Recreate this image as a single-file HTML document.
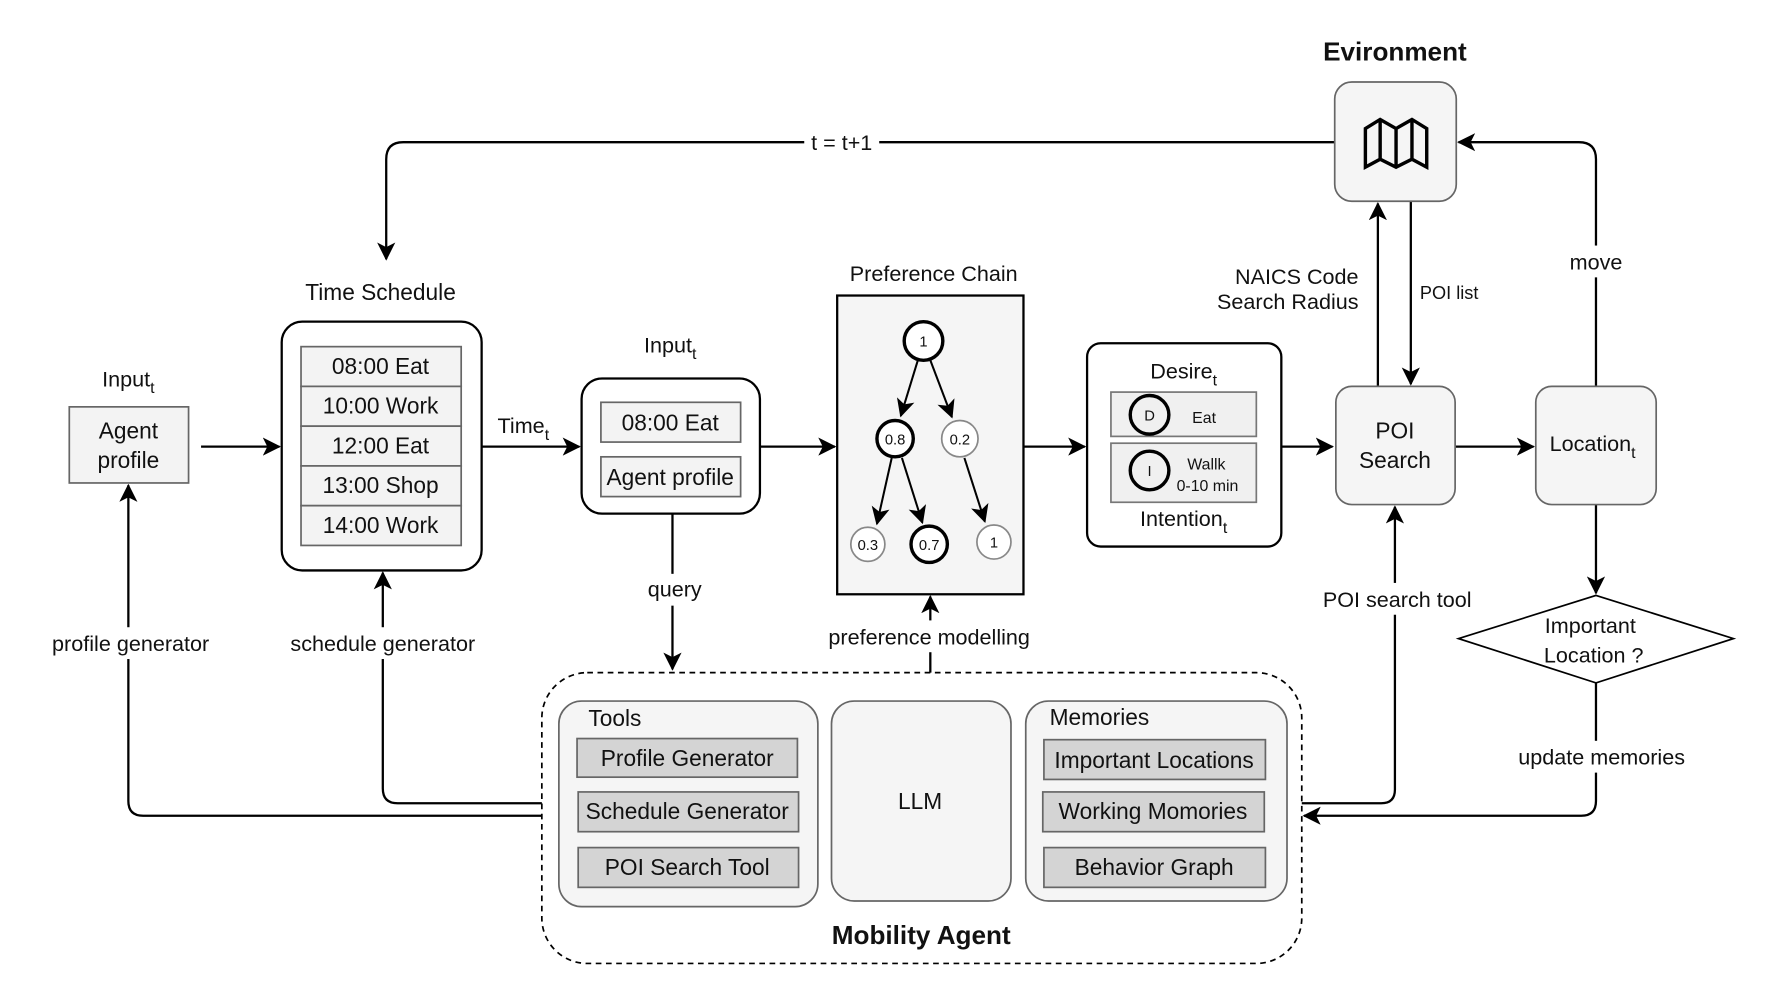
<!DOCTYPE html>
<html><head><meta charset="utf-8"><style>
html,body{margin:0;padding:0;background:#fff;}
svg{display:block;}
text{font-family:"Liberation Sans",sans-serif;fill:#111;}
</style></head><body>
<svg width="1780" height="1000" viewBox="0 0 1567 880" xmlns="http://www.w3.org/2000/svg">
<defs>
<marker id="a" viewBox="0 0 10 10" refX="9" refY="5" markerWidth="7" markerHeight="7" orient="auto-start-reverse" markerUnits="userSpaceOnUse">
</marker>
<marker id="ar" viewBox="0 0 12 12" refX="11" refY="6" markerWidth="16" markerHeight="16" orient="auto" markerUnits="userSpaceOnUse">
<path d="M0,0 L12,6 L0,12 L3,6 Z" fill="#000"/>
</marker>
</defs>
<g fill="none" stroke="#000" stroke-width="2">
<!-- t=t+1 -->
<path d="M1175,125 H355 Q340,125 340,140 V228" marker-end="url(#ar)"/>
<!-- move -->
<path d="M1405,340 V140 Q1405,125 1390,125 H1284" marker-end="url(#ar)"/>
<!-- horizontal arrows -->
<path d="M177,393 H246" marker-end="url(#ar)"/>
<path d="M424,393 H510" marker-end="url(#ar)"/>
<path d="M669,393 H735" marker-end="url(#ar)"/>
<path d="M901,393 H955" marker-end="url(#ar)"/>
<path d="M1128,393 H1173" marker-end="url(#ar)"/>
<path d="M1281,393 H1350" marker-end="url(#ar)"/>
<!-- POI up/down -->
<path d="M1213,340 V179" marker-end="url(#ar)"/>
<path d="M1242,177 V338" marker-end="url(#ar)"/>
<!-- location to diamond -->
<path d="M1405,444 V522" marker-end="url(#ar)"/>
<!-- update memories -->
<path d="M1405,601 V705 Q1405,718 1392,718 H1148" marker-end="url(#ar)"/>
<!-- POI search tool -->
<path d="M1146,707 H1216 Q1228,707 1228,695 V446" marker-end="url(#ar)"/>
<!-- query -->
<path d="M592,452 V589" marker-end="url(#ar)"/>
<!-- preference modelling -->
<path d="M819,592 V525" marker-end="url(#ar)"/>
<!-- profile generator -->
<path d="M477,718 H126 Q113,718 113,705 V427" marker-end="url(#ar)"/>
<!-- schedule generator -->
<path d="M477,707 H350 Q337,707 337,694 V504" marker-end="url(#ar)"/>
</g>
<!-- label backgrounds -->
<g fill="#fff">
<rect x="708" y="113" width="66" height="24"/>
<rect x="1380" y="216" width="52" height="28"/>
<rect x="560" y="505" width="66" height="28"/>
<rect x="715" y="546" width="205" height="28"/>
<rect x="30" y="552" width="170" height="28"/>
<rect x="240" y="552" width="195" height="28"/>
<rect x="1150" y="513" width="160" height="28"/>
<rect x="1322" y="652" width="176" height="28"/>
</g>
<!-- Environment -->
<text x="1228" y="53" font-size="23" font-weight="bold" text-anchor="middle">Evironment</text>
<rect x="1175" y="72" width="107" height="105" rx="15" fill="#f5f5f5" stroke="#666" stroke-width="1.5"/>
<path d="M1202,113 L1215,105 L1229,113 L1243,105 L1256,113 V147 L1243,140 L1229,147 L1215,140 L1202,147 Z M1215,105 V140 M1229,113 V147 M1243,105 V140" fill="none" stroke="#000" stroke-width="3" stroke-linejoin="miter"/>
<text x="741" y="132" font-size="19" text-anchor="middle">t = t+1</text>
<text x="1405" y="237" font-size="19" text-anchor="middle">move</text>
<text x="1196" y="250" font-size="19" text-anchor="end">NAICS Code</text>
<text x="1196" y="272" font-size="19" text-anchor="end">Search Radius</text>
<text x="1250" y="263" font-size="16">POI list</text>
<!-- Agent profile -->
<text x="113" y="340" font-size="19" text-anchor="middle">Input<tspan font-size="14" dy="6">t</tspan></text>
<rect x="61" y="358" width="105" height="67" fill="#f3f3f3" stroke="#666" stroke-width="1.5"/>
<text x="113" y="386" font-size="20" text-anchor="middle">Agent</text>
<text x="113" y="412" font-size="20" text-anchor="middle">profile</text>
<!-- Time schedule -->
<text x="335" y="264" font-size="20" text-anchor="middle">Time Schedule</text>
<rect x="248" y="283" width="176" height="219" rx="18" fill="#fff" stroke="#000" stroke-width="2"/>
<g fill="#f3f3f3" stroke="#666" stroke-width="1.5">
<rect x="265" y="305" width="141" height="35"/><rect x="265" y="340" width="141" height="35"/><rect x="265" y="375" width="141" height="35"/><rect x="265" y="410" width="141" height="35"/><rect x="265" y="445" width="141" height="35"/>
</g>
<g font-size="20" text-anchor="middle">
<text x="335" y="329">08:00 Eat</text><text x="335" y="364">10:00 Work</text><text x="335" y="399">12:00 Eat</text><text x="335" y="434">13:00 Shop</text><text x="335" y="469">14:00 Work</text>
</g>
<text x="438" y="381" font-size="19">Time<tspan font-size="14" dy="6">t</tspan></text>
<!-- Input box -->
<text x="590" y="310" font-size="19" text-anchor="middle">Input<tspan font-size="14" dy="6">t</tspan></text>
<rect x="512" y="333" width="157" height="119" rx="18" fill="#fff" stroke="#000" stroke-width="2"/>
<rect x="529" y="354" width="123" height="35" fill="#f3f3f3" stroke="#666" stroke-width="1.5"/>
<rect x="529" y="402" width="123" height="35" fill="#f3f3f3" stroke="#666" stroke-width="1.5"/>
<text x="590" y="379" font-size="20" text-anchor="middle">08:00 Eat</text>
<text x="590" y="427" font-size="20" text-anchor="middle">Agent profile</text>
<text x="594" y="525" font-size="19" text-anchor="middle">query</text>
<!-- Preference chain -->
<text x="822" y="247" font-size="19" text-anchor="middle">Preference Chain</text>
<rect x="737" y="260" width="164" height="263" fill="#f5f5f5" stroke="#000" stroke-width="2"/>
<g fill="none" stroke="#000" stroke-width="1.8">
<path d="M808,317 L793,366" marker-end="url(#ar)"/>
<path d="M819,317 L838,367" marker-end="url(#ar)"/>
<path d="M785,403 L772,461" marker-end="url(#ar)"/>
<path d="M794,403 L812,460" marker-end="url(#ar)"/>
<path d="M849,403 L867,459" marker-end="url(#ar)"/>
</g>
<g fill="#fff">
<circle cx="813" cy="300" r="17" stroke="#000" stroke-width="3"/>
<circle cx="788" cy="386" r="16" stroke="#000" stroke-width="3"/>
<circle cx="845" cy="386" r="16" stroke="#888" stroke-width="1.5"/>
<circle cx="764" cy="479" r="15" stroke="#888" stroke-width="1.5"/>
<circle cx="818" cy="479" r="16" stroke="#000" stroke-width="3"/>
<circle cx="875" cy="477" r="15" stroke="#888" stroke-width="1.5"/>
</g>
<g font-size="13" text-anchor="middle">
<text x="813" y="305">1</text><text x="788" y="391">0.8</text><text x="845" y="391">0.2</text><text x="764" y="484">0.3</text><text x="818" y="484">0.7</text><text x="875" y="482">1</text>
</g>
<text x="818" y="567" font-size="19" text-anchor="middle">preference modelling</text>
<!-- Desire -->
<rect x="957" y="302" width="171" height="179" rx="12" fill="#fff" stroke="#000" stroke-width="2"/>
<text x="1042" y="333" font-size="19" text-anchor="middle">Desire<tspan font-size="14" dy="6">t</tspan></text>
<rect x="978" y="345" width="128" height="39" fill="#f0f0f0" stroke="#777" stroke-width="1.5"/>
<rect x="978" y="390" width="128" height="52" fill="#f0f0f0" stroke="#777" stroke-width="1.5"/>
<circle cx="1012" cy="365" r="17" fill="none" stroke="#000" stroke-width="3"/>
<circle cx="1012" cy="414" r="17" fill="none" stroke="#000" stroke-width="3"/>
<text x="1012" y="370" font-size="13" text-anchor="middle">D</text>
<text x="1012" y="419" font-size="13" text-anchor="middle">I</text>
<text x="1060" y="372" font-size="14" text-anchor="middle">Eat</text>
<text x="1062" y="413" font-size="14" text-anchor="middle">Wallk</text>
<text x="1063" y="432" font-size="14" text-anchor="middle">0-10 min</text>
<text x="1042" y="463" font-size="19" text-anchor="middle">Intention<tspan font-size="14" dy="6">t</tspan></text>
<!-- POI search -->
<rect x="1176" y="340" width="105" height="104" rx="14" fill="#f5f5f5" stroke="#666" stroke-width="1.5"/>
<text x="1228" y="386" font-size="20" text-anchor="middle">POI</text>
<text x="1228" y="412" font-size="20" text-anchor="middle">Search</text>
<text x="1230" y="534" font-size="19" text-anchor="middle">POI search tool</text>
<!-- Location -->
<rect x="1352" y="340" width="106" height="104" rx="14" fill="#f5f5f5" stroke="#666" stroke-width="1.5"/>
<text x="1402" y="397" font-size="19" text-anchor="middle">Location<tspan font-size="14" dy="6">t</tspan></text>
<!-- Diamond -->
<polygon points="1405,524 1526,562 1405,601 1284,562" fill="#fff" stroke="#000" stroke-width="1.5"/>
<text x="1400" y="557" font-size="19" text-anchor="middle">Important</text>
<text x="1403" y="583" font-size="19" text-anchor="middle">Location ?</text>
<text x="1410" y="673" font-size="19" text-anchor="middle">update memories</text>
<text x="115" y="573" font-size="19" text-anchor="middle">profile generator</text>
<text x="337" y="573" font-size="19" text-anchor="middle">schedule generator</text>
<!-- Mobility agent -->
<rect x="477" y="592" width="669" height="256" rx="40" fill="none" stroke="#000" stroke-width="1.5" stroke-dasharray="5,4"/>
<rect x="492" y="617" width="228" height="181" rx="20" fill="#f5f5f5" stroke="#666" stroke-width="1.5"/>
<rect x="732" y="617" width="158" height="176" rx="20" fill="#f5f5f5" stroke="#666" stroke-width="1.5"/>
<rect x="903" y="617" width="230" height="176" rx="20" fill="#f5f5f5" stroke="#666" stroke-width="1.5"/>
<g fill="#d4d4d4" stroke="#666" stroke-width="1.5">
<rect x="508" y="650" width="194" height="34"/><rect x="509" y="697" width="194" height="35"/><rect x="509" y="746" width="194" height="35"/>
<rect x="919" y="651" width="195" height="35"/><rect x="918" y="697" width="195" height="35"/><rect x="919" y="746" width="195" height="35"/>
</g>
<g font-size="20">
<text x="518" y="639">Tools</text>
<text x="924" y="638">Memories</text>
<text x="605" y="674" text-anchor="middle">Profile Generator</text>
<text x="605" y="721" text-anchor="middle">Schedule Generator</text>
<text x="605" y="770" text-anchor="middle">POI Search Tool</text>
<text x="1016" y="676" text-anchor="middle">Important Locations</text>
<text x="1015" y="721" text-anchor="middle">Working Momories</text>
<text x="1016" y="770" text-anchor="middle">Behavior Graph</text>
<text x="810" y="712" text-anchor="middle">LLM</text>
</g>
<text x="811" y="831" font-size="23" font-weight="bold" text-anchor="middle" fill="#333">Mobility Agent</text>
</svg>
</body></html>
